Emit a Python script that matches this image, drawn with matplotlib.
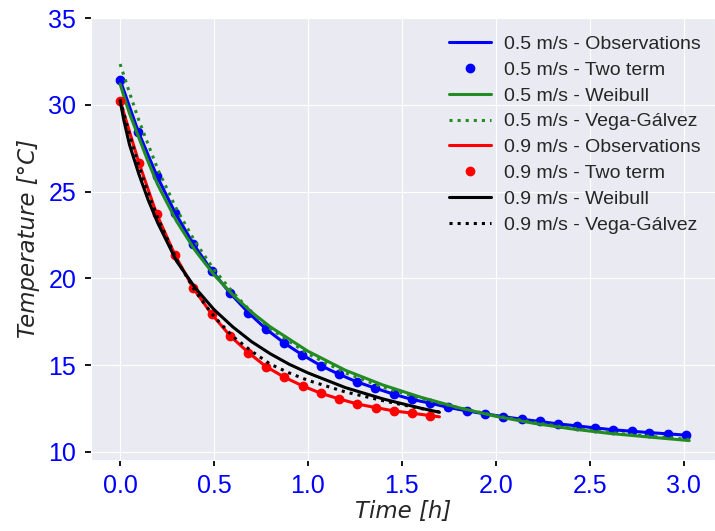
import matplotlib
matplotlib.use("Agg")
import matplotlib.pyplot as plt
import seaborn as sns

sns.set_style("darkgrid")
plt.rcParams["font.family"] = ["Liberation Sans", "DejaVu Sans"]

# 0.5 m/s - observed drying temperature
t_05 = [0.0, 0.097, 0.195, 0.293, 0.390, 0.488, 0.586, 0.683, 0.777, 0.875,
        0.970, 1.068, 1.164, 1.261, 1.359, 1.457, 1.554, 1.650, 1.748, 1.846,
        1.943, 2.041, 2.138, 2.235, 2.333, 2.430, 2.528, 2.626, 2.724, 2.817,
        2.915, 3.013, 3.03]
obs_05 = [31.43, 28.45, 25.92, 23.78, 21.98, 20.44, 19.14, 18.02, 17.08, 16.26,
          15.59, 14.97, 14.48, 14.03, 13.67, 13.32, 13.02, 12.81, 12.56, 12.36,
          12.19, 12.03, 11.88, 11.75, 11.61, 11.50, 11.38, 11.27, 11.19, 11.11,
          11.04, 10.96, 10.95]
# two term model at the observation times
two_05 = obs_05[:-1]

# 0.9 m/s - observed
t_09 = [0.0, 0.101, 0.195, 0.293, 0.390, 0.488, 0.586, 0.683, 0.777, 0.875,
        0.972, 1.068, 1.166, 1.263, 1.361, 1.458, 1.554, 1.650, 1.70]
obs_09 = [30.24, 26.63, 23.69, 21.32, 19.43, 17.93, 16.68, 15.72, 14.91, 14.30,
          13.80, 13.38, 13.05, 12.76, 12.55, 12.36, 12.23, 12.09, 12.02]
two_09 = obs_09[:-1]

# model curves
t_m05 = [0.0, 0.02, 0.05, 0.1, 0.15, 0.2, 0.3, 0.4, 0.5, 0.6, 0.7, 0.8, 1.0,
         1.2, 1.4, 1.6, 1.8, 2.0, 2.2, 2.4, 2.6, 2.8, 3.03]
weib_05 = [31.2, 30.5, 29.5, 28.1, 26.7, 25.4, 23.3, 21.6, 20.2, 19.05, 18.05,
           17.2, 15.8, 14.7, 13.85, 13.15, 12.55, 12.05, 11.65, 11.33, 11.07,
           10.87, 10.65]
vega_05 = [32.35, 31.7, 30.7, 29.1, 27.7, 26.3, 24.0, 22.1, 20.5, 19.2, 18.05,
           17.1, 15.65, 14.55, 13.72, 13.08, 12.55, 12.08, 11.7, 11.38, 11.12,
           10.92, 10.72]

t_m09 = [0.0, 0.02, 0.05, 0.1, 0.15, 0.2, 0.3, 0.4, 0.5, 0.6, 0.7, 0.8,
         0.9, 1.0, 1.2, 1.4, 1.5, 1.6, 1.7]
weib_09 = [30.24, 29.1, 27.7, 26.0, 24.5, 23.2, 21.0, 19.45, 18.2, 17.2, 16.35,
           15.65, 15.05, 14.55, 13.7, 13.05, 12.78, 12.52, 12.28]
vega_09 = [30.3, 29.5, 28.3, 26.5, 24.9, 23.5, 21.1, 19.25, 17.8, 16.65, 15.8,
           15.05, 14.55, 14.12, 13.45, 12.95, 12.72, 12.5, 12.3]

fig = plt.figure(figsize=(7.15, 5.31), dpi=100)
ax = fig.add_axes([0.127, 0.134, 0.873, 0.832])

green = "forestgreen"
ax.plot(t_05, obs_05, "-", color="blue", lw=2.2, label="0.5 m/s - Observations")
ax.plot(t_05[:-1], two_05, "o", color="blue", ms=6, label="0.5 m/s - Two term")
ax.plot(t_m05, weib_05, "-", color=green, lw=2.2, label="0.5 m/s - Weibull")
ax.plot(t_m05, vega_05, ":", color=green, lw=2.2, label="0.5 m/s - Vega-Gálvez")
ax.plot(t_09, obs_09, "-", color="red", lw=2.2, label="0.9 m/s - Observations")
ax.plot(t_09[:-1], two_09, "o", color="red", ms=6, label="0.9 m/s - Two term")
ax.plot(t_m09, weib_09, "-", color="black", lw=2.2, label="0.9 m/s - Weibull")
ax.plot(t_m09, vega_09, ":", color="black", lw=2.2, label="0.9 m/s - Vega-Gálvez")

ax.set_xlim(-0.156, 3.167)
ax.set_ylim(9.54, 35)
ax.set_xticks([0.0, 0.5, 1.0, 1.5, 2.0, 2.5, 3.0])
ax.set_yticks([10, 15, 20, 25, 30, 35])
ax.tick_params(bottom=True, left=True, direction="out", length=4.5, width=1.3,
               color="black", labelcolor="blue", labelsize=18, pad=6)

ax.set_xlabel("Time [h]", fontsize=16.5, fontstyle="italic", family="DejaVu Sans",
              color="#262626", labelpad=1)
ax.set_ylabel("Temperature [°C]", fontsize=16.5, fontstyle="italic",
              family="DejaVu Sans", color="#262626", labelpad=6)

leg = ax.legend(loc="upper right", fontsize=14, frameon=False, handlelength=2.15,
                handletextpad=0.7, labelspacing=0.42, bbox_to_anchor=(1.006, 1.0))
for txt in leg.get_texts():
    txt.set_color("#262626")

fig.savefig("out.png", dpi=100)
